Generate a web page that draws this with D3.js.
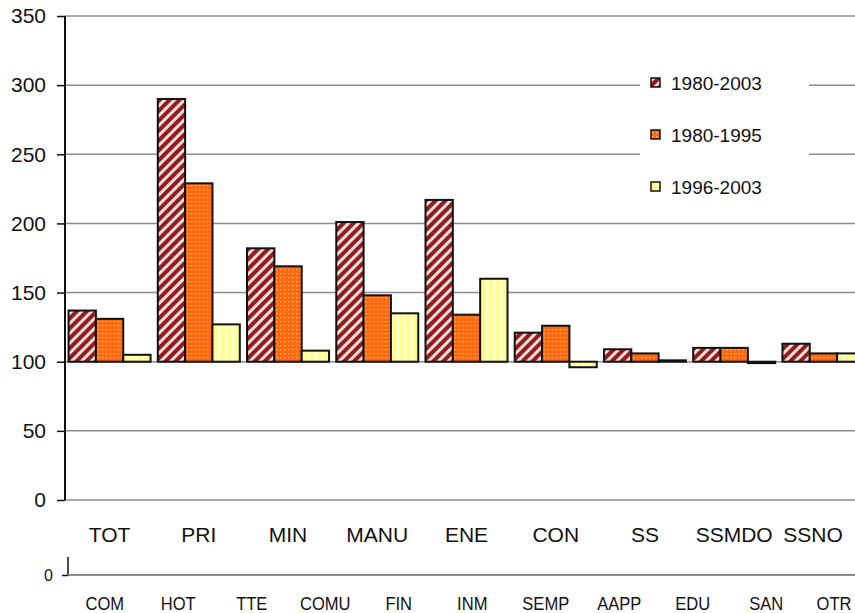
<!DOCTYPE html>
<html>
<head>
<meta charset="utf-8">
<script src="https://cdn.jsdelivr.net/npm/d3@7"></script>
<style>
  html, body { margin: 0; padding: 0; background: #fff; }
  svg { display: block; font-family: Arial, "Liberation Sans", sans-serif; }
</style>
</head>
<body>
<svg id="chart" width="855" height="613"></svg>
<script>
// ---- data ----
const categories = ["TOT", "PRI", "MIN", "MANU", "ENE", "CON", "SS", "SSMDO", "SSNO"];
const seriesNames = ["1980-2003", "1980-1995", "1996-2003"];
const s1980_2003 = [137, 290, 182, 201, 217, 121, 109, 110, 113];
const s1980_1995 = [131, 229, 169, 148, 134, 126, 106, 110, 106];
const s1996_2003 = [105, 127, 108, 135, 160, 96, 101, 99, 106];
const yTicks = [0, 50, 100, 150, 200, 250, 300, 350];
const subLabels = ["COM", "HOT", "TTE", "COMU", "FIN", "INM", "SEMP", "AAPP", "EDU", "SAN", "OTR"];
const subTicks = [0];
const baseValue = 100;

const seriesValues = [s1980_2003, s1980_1995, s1996_2003];

const svg = d3.select("#chart");

// ---- patterns ----
const defs = svg.append("defs");
const p1 = defs.append("pattern").attr("id", "pat0").attr("patternUnits", "userSpaceOnUse")
  .attr("width", 7).attr("height", 7).attr("patternTransform", "rotate(45)");
p1.append("rect").attr("width", 7).attr("height", 7).attr("fill", "#f3dede");
p1.append("rect").attr("width", 4).attr("height", 7).attr("fill", "#951c1c");

const p2 = defs.append("pattern").attr("id", "pat1").attr("patternUnits", "userSpaceOnUse")
  .attr("width", 4).attr("height", 4);
p2.append("rect").attr("width", 4).attr("height", 4).attr("fill", "#ff6a0e");
p2.append("rect").attr("x", 1).attr("y", 1).attr("width", 1.3).attr("height", 1.3).attr("fill", "#ffc28f");

const p3 = defs.append("pattern").attr("id", "pat2").attr("patternUnits", "userSpaceOnUse")
  .attr("width", 7).attr("height", 7);
p3.append("rect").attr("width", 7).attr("height", 7).attr("fill", "#ffffd2");
p3.append("rect").attr("width", 4).attr("height", 7).attr("fill", "#ffff8c");

// ---- scales ----
const y = d3.scaleLinear().domain([0, 350]).range([500, 16]);
const x0 = d3.scaleBand().domain(categories).range([65, 868]).paddingInner(0.081).paddingOuter(0.04);
const x1 = d3.scaleBand().domain(seriesNames).range([0, x0.bandwidth()]);
const xSub = d3.scaleBand().domain(subLabels).range([68, 876.5]);

// ---- gridlines ----
svg.append("g").selectAll("line").data(yTicks).join("line")
  .attr("x1", 65).attr("x2", 855)
  .attr("y1", d => y(d)).attr("y2", d => y(d))
  .attr("stroke", "#8c8c8c").attr("stroke-width", 1.5);

// ---- bars ----
const groups = svg.append("g").selectAll("g").data(categories).join("g")
  .attr("transform", d => `translate(${x0(d)},0)`);
groups.selectAll("rect").data((c, ci) => seriesNames.map((s, si) => ({ s, si, v: seriesValues[si][ci] })))
  .join("rect")
  .attr("x", d => x1(d.s))
  .attr("width", x1.bandwidth())
  .attr("y", d => y(Math.max(d.v, baseValue)))
  .attr("height", d => Math.max(1, Math.abs(y(d.v) - y(baseValue))))
  .attr("fill", d => `url(#pat${d.si})`)
  .attr("stroke", "#111").attr("stroke-width", 2);

// ---- y axis ----
const yAxis = svg.append("g").attr("transform", "translate(65,0)")
  .call(d3.axisLeft(y).tickValues(yTicks).tickSize(8).tickPadding(11));
yAxis.select(".domain").attr("stroke", "#111").attr("stroke-width", 2).attr("d", `M-0,${y(350)}V${y(0)}`);
yAxis.selectAll(".tick line").attr("stroke", "#111").attr("stroke-width", 1.5);
yAxis.selectAll("text").attr("font-size", 21).attr("fill", "#111").attr("font-family", "Arial, 'Liberation Sans', sans-serif");

// ---- category labels ----
svg.append("g").selectAll("text").data(categories).join("text")
  .attr("x", d => Math.min(x0(d) + x0.bandwidth() / 2, 813))
  .attr("y", 542)
  .attr("text-anchor", "middle")
  .attr("font-size", 21).attr("fill", "#111")
  .text(d => d);

// ---- legend ----
const legend = svg.append("g");
legend.append("rect").attr("x", 640).attr("y", 58).attr("width", 169).attr("height", 150).attr("fill", "#fff");
const li = legend.selectAll("g").data(seriesNames).join("g")
  .attr("transform", (d, i) => `translate(651,${83 + i * 52})`);
li.append("rect").attr("x", 0).attr("y", -5).attr("width", 9).attr("height", 9)
  .attr("fill", (d, i) => `url(#pat${i})`).attr("stroke", "#111").attr("stroke-width", 1.5);
li.append("text").attr("x", 20).attr("y", 7).attr("font-size", 19).attr("fill", "#111").text(d => d);

// ---- secondary axis below ----
const ySub = d3.scaleLinear().domain([0, 1]).range([575, 557]);
const subAxis = svg.append("g").attr("transform", "translate(68,0)")
  .call(d3.axisLeft(ySub).tickValues(subTicks).tickFormat(d3.format("d")).tickSize(6).tickPadding(9));
subAxis.select(".domain").attr("stroke", "#111").attr("stroke-width", 1.5).attr("d", `M0,${ySub(1)}V${ySub(0)}`);
subAxis.selectAll(".tick line").attr("stroke", "#111").attr("stroke-width", 1.5);
subAxis.selectAll("text").attr("font-size", 16).attr("fill", "#111").attr("font-family", "Arial, 'Liberation Sans', sans-serif");
svg.append("line").attr("x1", 68).attr("x2", 855).attr("y1", ySub(0)).attr("y2", ySub(0))
  .attr("stroke", "#8c8c8c").attr("stroke-width", 2);

svg.append("g").selectAll("text").data(subLabels).join("text")
  .attr("transform", d => `translate(${Math.min(xSub(d) + xSub.bandwidth() / 2, 834)},610) scale(0.92,1)`)
  .attr("text-anchor", "middle")
  .attr("font-size", 18).attr("fill", "#111")
  .text(d => d);
</script>
</body>
</html>
